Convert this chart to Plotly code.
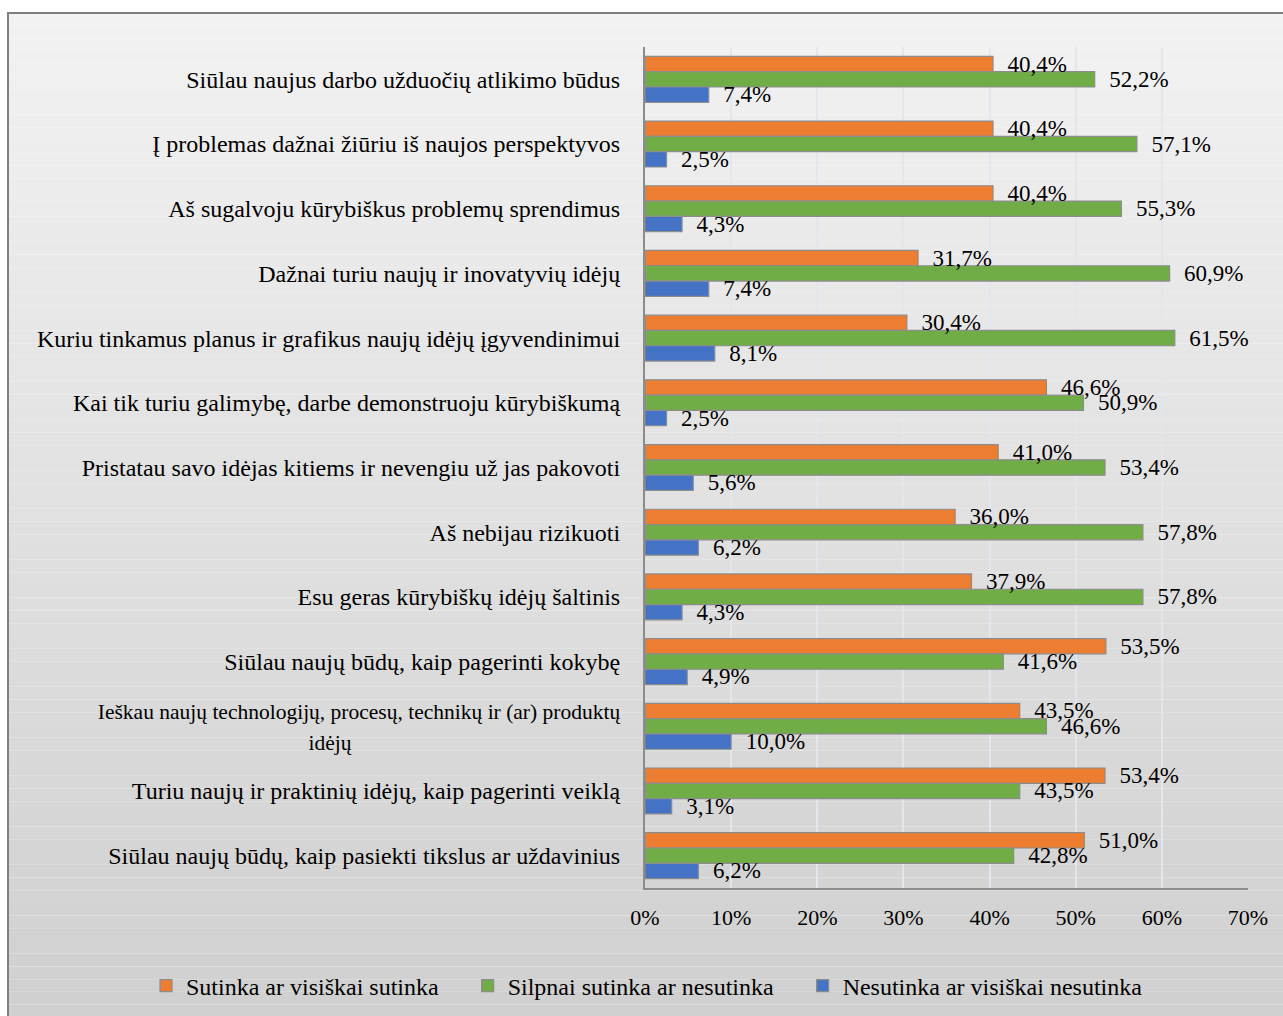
import plotly.graph_objects as go

NB = "\u00a0"
categories = [
    "Siūlau naujus darbo užduočių atlikimo būdus",
    "Į problemas dažnai žiūriu iš naujos perspektyvos",
    "Aš sugalvoju kūrybiškus problemų sprendimus",
    "Dažnai turiu naujų ir inovatyvių idėjų",
    "Kuriu tinkamus planus ir grafikus naujų idėjų įgyvendinimui",
    "Kai tik turiu galimybę, darbe demonstruoju kūrybiškumą",
    "Pristatau savo idėjas kitiems ir nevengiu už jas pakovoti",
    "Aš nebijau rizikuoti",
    "Esu geras kūrybiškų idėjų šaltinis",
    "Siūlau naujų būdų, kaip pagerinti kokybę",
    '<span style="font-size:21.5px">Ieškau naujų technologijų, procesų, technikų ir (ar) produktų</span><br>'
    '<span style="font-size:21.5px">idėjų' + NB * 50 + '</span>',
    "Turiu naujų ir praktinių idėjų, kaip pagerinti veiklą",
    "Siūlau naujų būdų, kaip pasiekti tikslus ar uždavinius",
]
sutinka = [40.4, 40.4, 40.4, 31.7, 30.4, 46.6, 41.0, 36.0, 37.9, 53.5, 43.5, 53.4, 51.0]
silpnai = [52.2, 57.1, 55.3, 60.9, 61.5, 50.9, 53.4, 57.8, 57.8, 41.6, 46.6, 43.5, 42.8]
nesutinka = [7.4, 2.5, 4.3, 7.4, 8.1, 2.5, 5.6, 6.2, 4.3, 4.9, 10.0, 3.1, 6.2]
series_names = ["Sutinka ar visiškai sutinka", "Silpnai sutinka ar nesutinka", "Nesutinka ar visiškai nesutinka"]
legend_pad = [4, 4, 0]
series_colors = ["#ED7D31", "#70AD47", "#4472C4"]
x_ticks = [0, 10, 20, 30, 40, 50, 60, 70]

FONT = "Liberation Serif, Times New Roman, serif"
W, H = 1283, 1016
L, R, T, B = 645, 35, 47, 128
PW, PH = W - L - R, H - T - B


def px_to_paper_x(px):
    return (px - L) / PW


def px_to_paper_y(py):
    return (H - B - py) / PH


def fmt(v):
    return NB * 2 + f"{v:.1f}".replace(".", ",") + "%"


fig = go.Figure()
all_vals = [sutinka, silpnai, nesutinka]
for i, (name, vals, col) in enumerate(zip(series_names, all_vals, series_colors)):
    fig.add_trace(go.Bar(
        name=name + NB * legend_pad[i], y=categories, x=vals, orientation="h",
        offsetgroup=str(i),
        marker=dict(color=col, line=dict(color="#8c8c8c", width=1.2)),
        hoverinfo="skip",
    ))
for i, vals in enumerate(all_vals):
    fig.add_trace(go.Bar(
        y=categories, x=vals, orientation="h", offsetgroup=str(i), showlegend=False,
        marker=dict(color="rgba(0,0,0,0)", line=dict(width=0)),
        text=[fmt(v) for v in vals], textposition="outside",
        textfont=dict(family=FONT, size=23, color="black"),
        constraintext="none", cliponaxis=False,
    ))

# background gradient
shapes = []
n = 80
y_top, y_bot = 13, 1030
for i in range(n):
    a = y_top + (y_bot - y_top) * i / n
    b = y_top + (y_bot - y_top) * (i + 1) / n
    t = (i + 0.5) / n
    c = round(242 + (207 - 242) * t)
    shapes.append(dict(type="rect", xref="paper", yref="paper", layer="below",
                       x0=px_to_paper_x(8), x1=px_to_paper_x(1300),
                       y0=px_to_paper_y(b), y1=px_to_paper_y(a),
                       line=dict(width=0), fillcolor=f"rgb({c},{c},{c})"))
shapes.append(dict(type="rect", xref="paper", yref="paper", layer="below",
                   x0=px_to_paper_x(8), x1=px_to_paper_x(1300),
                   y0=px_to_paper_y(1030), y1=px_to_paper_y(13),
                   line=dict(width=2, color="#7f7f7f"), fillcolor="rgba(0,0,0,0)"))

fig.update_layout(
    width=W, height=H,
    margin=dict(l=L, r=R, t=T, b=B, autoexpand=False),
    paper_bgcolor="white", plot_bgcolor="rgba(0,0,0,0)",
    barmode="group", bargap=0.29, bargroupgap=0,
    font=dict(family=FONT, size=23, color="black"),
    shapes=shapes,
    showlegend=True,
    legend=dict(orientation="h",
                x=px_to_paper_x(146), xanchor="left",
                y=px_to_paper_y(986), yanchor="middle",
                bgcolor="rgba(0,0,0,0)", font=dict(family=FONT, size=24),
                itemwidth=30, traceorder="normal"),
    xaxis=dict(range=[0, 70], tickvals=x_ticks, ticktext=[f"{v}%" for v in x_ticks],
               showgrid=True, gridcolor="#e2e6ee", gridwidth=1.5,
               showline=True, linecolor="#8c8c8c", linewidth=2,
               zeroline=False, ticks="", ticklabelstandoff=9,
               tickfont=dict(family=FONT, size=22)),
    yaxis=dict(autorange="reversed", showline=True, linecolor="#8c8c8c", linewidth=2,
               showgrid=False, ticks="", ticklabelstandoff=18,
               tickfont=dict(family=FONT, size=24)),
)

fig.write_html("out.html")
